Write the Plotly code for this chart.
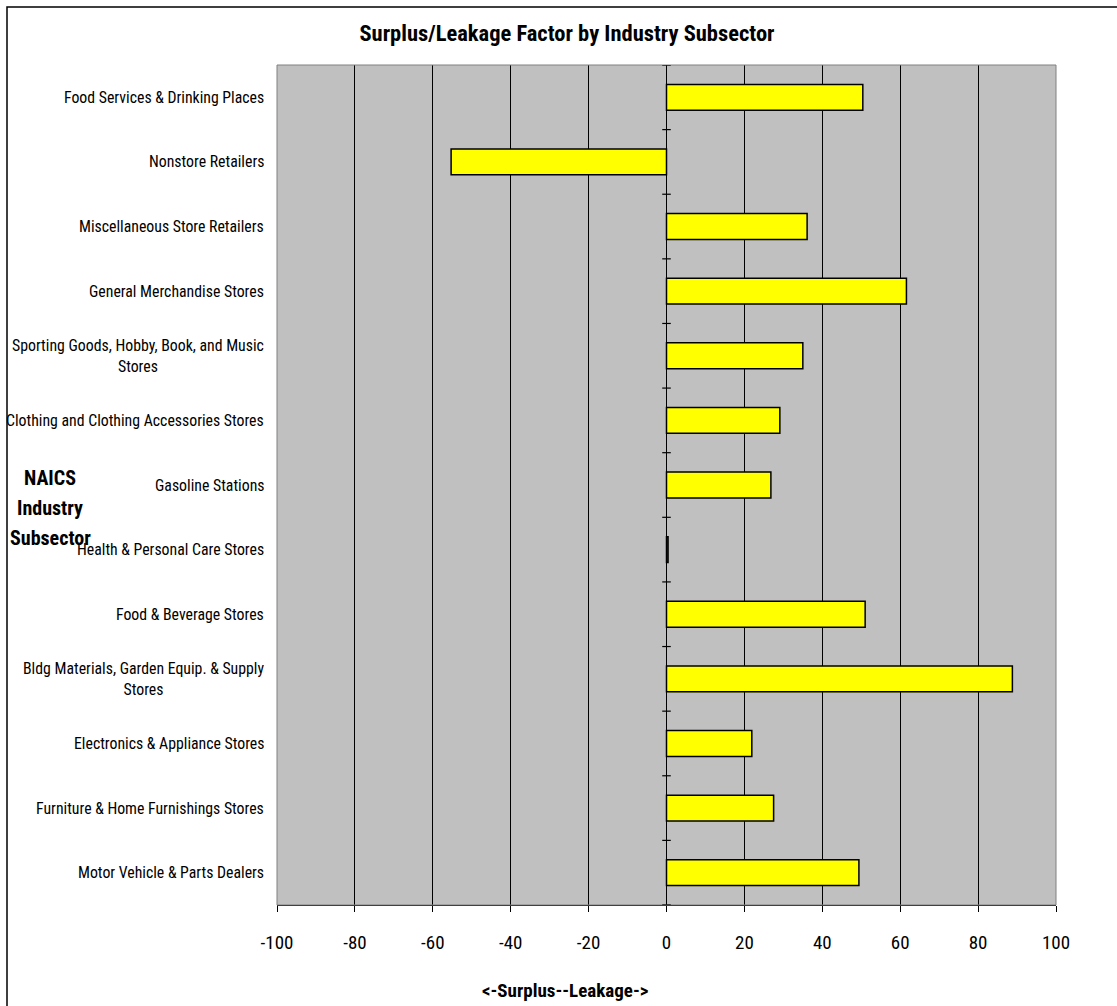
import plotly.graph_objects as go

# Subsectors listed top to bottom as they appear on the chart
subsectors = [
    "Food Services & Drinking Places",
    "Nonstore Retailers",
    "Miscellaneous Store Retailers",
    "General Merchandise Stores",
    "Sporting Goods, Hobby, Book, and Music<br>Stores",
    "Clothing and Clothing Accessories Stores",
    "Gasoline Stations",
    "Health & Personal Care Stores",
    "Food & Beverage Stores",
    "Bldg Materials, Garden Equip. & Supply<br>Stores",
    "Electronics & Appliance Stores",
    "Furniture & Home Furnishings Stores",
    "Motor Vehicle & Parts Dealers",
]
surplus_leakage = [50.4, -55.3, 36.1, 61.6, 35.0, 29.1, 26.8, 0.4, 51.0, 88.8, 21.9, 27.5, 49.4]
x_ticks = [-100, -80, -60, -40, -20, 0, 20, 40, 60, 80, 100]

W, H = 1117, 1006
ML, MR, MT, MB = 277, 61, 65, 101
PW, PH = W - ML - MR, H - MT - MB

NARROW = "Liberation Sans Narrow, Arial Narrow, Roboto Condensed, sans-serif"


def px_x(p):
    return (p - ML) / PW


def px_y(p):
    return (H - MB - p) / PH


positions = list(range(len(subsectors)))

fig = go.Figure()
fig.add_trace(go.Bar(
    x=surplus_leakage,
    y=positions,
    orientation="h",
    width=0.4,
    marker=dict(color="#FFFF00", line=dict(color="black", width=1.5)),
    hoverinfo="x",
))

shapes = []
# plot-area frame
shapes.append(dict(type="rect", xref="paper", yref="paper", x0=0, x1=1, y0=0, y1=1,
                   line=dict(color="#808080", width=1), layer="above"))
# cross tick marks on the zero axis at category boundaries
for i in range(len(subsectors) + 1):
    shapes.append(dict(type="line", xref="x", yref="y", x0=-1.1, x1=1.1,
                       y0=i - 0.5, y1=i - 0.5, line=dict(color="black", width=1.2)))
# outer chart border
shapes.append(dict(type="rect", xref="paper", yref="paper",
                   x0=px_x(7), x1=px_x(1125), y0=px_y(1015), y1=px_y(7),
                   line=dict(color="black", width=1.5)))

annotations = []
for i, name in enumerate(subsectors):
    annotations.append(dict(x=0, xref="paper", y=i, yref="y", text=name,
                            showarrow=False, xanchor="right", yanchor="middle",
                            align="center", xshift=-11,
                            font=dict(family=NARROW, size=15.8, color="black")))
for word, py in zip(["NAICS", "Industry", "Subsector"], [478, 508, 538]):
    annotations.append(dict(x=px_x(50), xref="paper", y=px_y(py), yref="paper",
                            text="<b>%s</b>" % word, showarrow=False,
                            xanchor="center", yanchor="middle",
                            font=dict(family=NARROW, size=20, color="black")))
annotations.append(dict(x=px_x(565), xref="paper", y=px_y(990), yref="paper",
                        text="<b>&lt;-Surplus--Leakage-&gt;</b>", showarrow=False,
                        xanchor="center", yanchor="middle",
                        font=dict(family=NARROW, size=19, color="black")))

fig.update_layout(
    width=W, height=H,
    margin=dict(l=ML, r=MR, t=MT, b=MB),
    paper_bgcolor="white",
    plot_bgcolor="#C0C0C0",
    showlegend=False,
    title=dict(text="<b>Surplus/Leakage Factor by Industry Subsector</b>",
               x=567 / W, xanchor="center", y=1 - 33 / H, yanchor="middle",
               font=dict(family=NARROW, size=22.5, color="black")),
    xaxis=dict(range=[-100, 100], tickvals=x_ticks, ticktext=[str(v) for v in x_ticks],
               showgrid=True, gridcolor="black", gridwidth=1,
               zeroline=True, zerolinecolor="black", zerolinewidth=1.2,
               showline=True, linecolor="black", linewidth=1.2,
               ticks="outside", ticklen=6, tickcolor="black", ticklabelstandoff=14,
               tickfont=dict(family=NARROW, size=19, color="black")),
    yaxis=dict(range=[len(subsectors) - 0.5, -0.5], showticklabels=False,
               showgrid=False, zeroline=False, showline=False, ticks=""),
    shapes=shapes,
    annotations=annotations,
)

fig.write_html("out.html")
